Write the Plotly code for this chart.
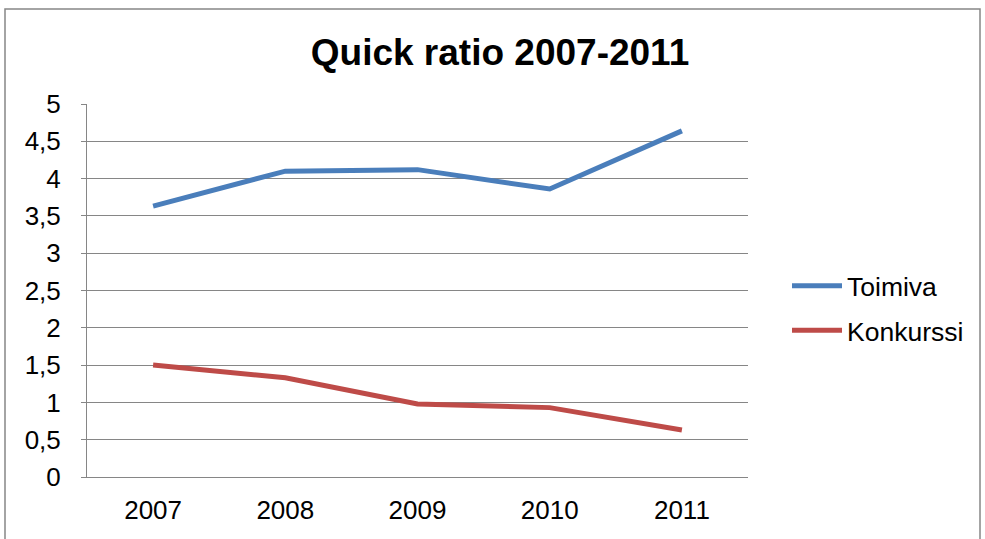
import plotly.graph_objects as go

years = ["2007", "2008", "2009", "2010", "2011"]
toimiva = [3.63, 4.10, 4.12, 3.86, 4.64]
konkurssi = [1.50, 1.33, 0.98, 0.93, 0.63]
y_ticks = [0, 0.5, 1, 1.5, 2, 2.5, 3, 3.5, 4, 4.5, 5]
y_tick_labels = ["0", "0,5", "1", "1,5", "2", "2,5", "3", "3,5", "4", "4,5", "5"]

W, H = 985, 539
L, R, T, B = 87, 237, 104, 62
pw, ph = W - L - R, H - T - B

def px(x):
    return (x - L) / pw

def py(y):
    return (H - B - y) / ph

fig = go.Figure()
fig.add_trace(go.Scatter(x=years, y=toimiva, name="Toimiva", mode="lines",
                         legendgroup="a",
                         line=dict(color="#4A7EBB", width=5)))
fig.add_trace(go.Scatter(x=years, y=konkurssi, name="Konkurssi", mode="lines",
                         legendgroup="b",
                         line=dict(color="#BE4B48", width=5)))

font = "Liberation Sans, Arial, sans-serif"
fig.update_layout(
    width=W, height=H,
    margin=dict(l=L, r=R, t=T, b=B),
    paper_bgcolor="white", plot_bgcolor="white",
    font=dict(family=font, size=26, color="black"),
    title=dict(text="<b>Quick ratio 2007-2011</b>", x=500 / W, xref="container",
               xanchor="center", y=1 - 52 / H, yanchor="middle",
               font=dict(family=font, size=37, color="black")),
    showlegend=True,
    legend=dict(x=px(787), y=py(262), xanchor="left", yanchor="top",
                font=dict(family=font, size=26.5, color="black"),
                bgcolor="rgba(0,0,0,0)", itemwidth=50, tracegroupgap=7),
    xaxis=dict(type="category", range=[-0.5, 4.5], showgrid=False,
               showline=True, linecolor="#868686", linewidth=1, ticks="",
               tickfont=dict(size=26), ticklabelstandoff=10, automargin=False),
    yaxis=dict(range=[0, 5], tickvals=y_ticks, ticktext=y_tick_labels,
               showgrid=True, gridcolor="#868686", gridwidth=1,
               showline=True, linecolor="#868686", linewidth=1,
               ticks="outside", ticklen=5, tickcolor="#868686",
               tickfont=dict(size=26), ticklabelstandoff=15, zeroline=False,
               automargin=False),
    shapes=[dict(type="rect", xref="paper", yref="paper",
                 x0=px(5), x1=px(980), y0=py(560), y1=py(9),
                 line=dict(color="#868686", width=1.5), fillcolor="rgba(0,0,0,0)",
                 layer="below")],
)

fig.write_html("out.html")
